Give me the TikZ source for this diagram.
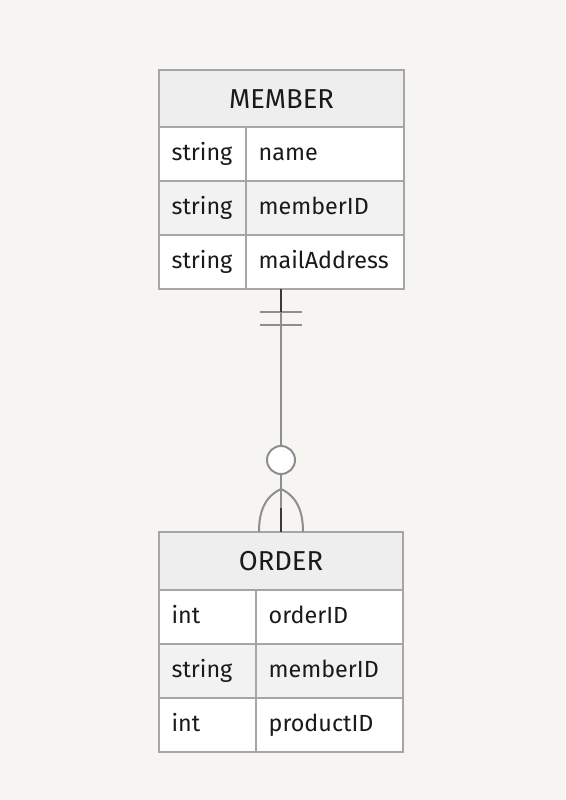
\documentclass[tikz,border=0pt]{standalone}
\usepackage{fontspec}
\setmainfont{Fira Sans}
\usetikzlibrary{positioning,calc}
\definecolor{paper}{HTML}{F6F5F2}
\definecolor{grid}{HTML}{A6A6A6}
\definecolor{head}{HTML}{EEEEEE}
\definecolor{stripe}{HTML}{F2F2F2}
\definecolor{ink}{HTML}{1A1A1A}
\definecolor{wire}{HTML}{8E8E8E}
\definecolor{wireDk}{HTML}{3A3A3A}

\begin{document}
\begin{tikzpicture}[x=0.75pt,y=-0.75pt,
    cell/.style={draw=grid, line width=1.5pt, anchor=north west, inner ysep=0pt,
                 outer sep=0pt, text=ink, font=\fontsize{17.5}{20}\selectfont,
                 text height=12pt, text depth=3pt},
    hdr/.style={cell, fill=head, inner xsep=0pt, minimum height=43pt,
                font=\fontsize{20.5}{24}\selectfont,
                text height=14pt, text depth=0pt, align=center},
    col/.style={cell, fill=white, inner xsep=9.5pt, text width=#1-19pt,
                minimum height=40.5pt, align=left},
    rel/.style={draw=wire, line width=1.5pt}]
  % canvas
  \fill[paper] (0,0) rectangle (565,800);
  \useasboundingbox (0,0) rectangle (565,800);

  % MEMBER table
  \node[hdr, minimum width=183.75pt] (mhead) at (159,70) {MEMBER};
  \node[col=65.25pt, below right=0pt and 0pt of mhead.south west] (m1t) {string};
  \node[col=118.5pt, below right=0pt and 0pt of m1t.north east] (m1n) {name};
  \node[col=65.25pt, fill=stripe, below right=0pt and 0pt of m1t.south west] (m2t) {string};
  \node[col=118.5pt, fill=stripe, below right=0pt and 0pt of m2t.north east] (m2n) {memberID};
  \node[col=65.25pt, below right=0pt and 0pt of m2t.south west] (m3t) {string};
  \node[col=118.5pt, below right=0pt and 0pt of m3t.north east] (m3n) {mailAddress};

  % ORDER table
  \node[hdr, minimum width=183pt, minimum height=43.5pt] (ohead) at (159,532) {ORDER};
  \node[col=72.75pt, below right=0pt and 0pt of ohead.south west] (o1t) {int};
  \node[col=110.25pt, below right=0pt and 0pt of o1t.north east] (o1n) {orderID};
  \node[col=72.75pt, fill=stripe, below right=0pt and 0pt of o1t.south west] (o2t) {string};
  \node[col=110.25pt, fill=stripe, below right=0pt and 0pt of o2t.north east] (o2n) {memberID};
  \node[col=72.75pt, below right=0pt and 0pt of o2t.south west] (o3t) {int};
  \node[col=110.25pt, below right=0pt and 0pt of o3t.north east] (o3n) {productID};

  % relation: exactly one -- zero or many
  \coordinate (mfoot) at (m3t.south -| ohead.north);
  \coordinate (bar1) at ($(mfoot)+(0,23)$);
  \coordinate (bar2) at ($(mfoot)+(0,36)$);
  \coordinate (apex) at ($(ohead.north)+(0,-43)$);
  \draw[rel] (mfoot) -- (ohead.north);
  \draw[rel] ($(bar1)+(-21,0)$) -- ($(bar1)+(21,0)$);
  \draw[rel] ($(bar2)+(-21,0)$) -- ($(bar2)+(21,0)$);
  \draw[rel] (apex) to[out=205,in=90] ($(ohead.north)+(-22,0)$);
  \draw[rel] (apex) to[out=-25,in=90] ($(ohead.north)+(22,0)$);
  \draw[draw=wireDk, line width=1.2pt] (mfoot) -- (bar1);
  \draw[draw=wireDk, line width=1.2pt] ($(ohead.north)+(0,-24)$) -- (ohead.north);
  \node[circle, draw=wire, line width=1.5pt, fill=white, minimum size=21pt,
        inner sep=0pt] (optional) at ($(ohead.north)+(0,-72)$) {};
\end{tikzpicture}
\end{document}
